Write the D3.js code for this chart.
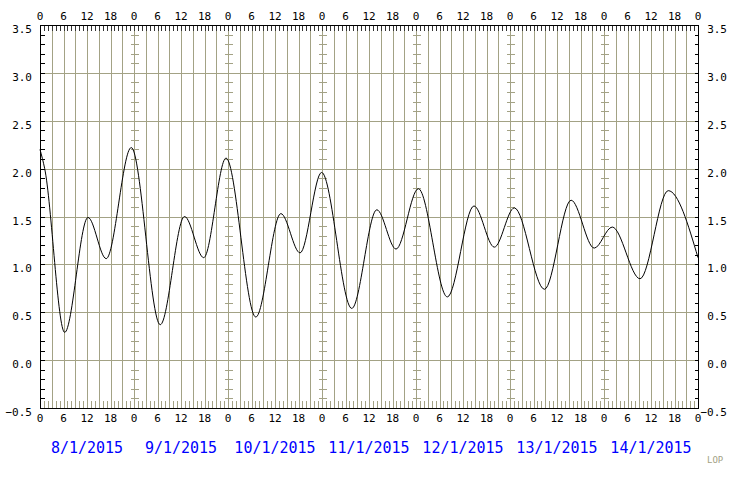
<!DOCTYPE html>
<html>
<head>
<meta charset="utf-8">
<script src="https://cdn.jsdelivr.net/npm/d3@7"></script>
<style>
  body { margin: 0; background: #fff; }
  svg { display: block; }
  text { font-family: "DejaVu Sans Mono", monospace; }
</style>
</head>
<body>
<div id="chart"></div>
<script>
// Data: hours since 8/1/2015 00:00, level in metres
var hours = [0, 1.2, 6.3, 12.25, 16.9, 23.3, 30.7, 36.9, 41.8, 47.5, 55.1, 61.5, 66.4,
  71.9, 79.6, 86, 90.9, 96.6, 104, 110.8, 116, 121.1, 128.8, 135.6, 141.5, 146.1,
  153.2, 160.4, 168];
var levels = [2.2, 2.0, 0.29, 1.49, 1.06, 2.22, 0.37, 1.5, 1.07, 2.11, 0.45, 1.53, 1.12,
  1.96, 0.54, 1.57, 1.16, 1.79, 0.66, 1.61, 1.18, 1.59, 0.74, 1.67, 1.17, 1.39,
  0.85, 1.77, 1.07];
var dayLabels = ["8/1/2015", "9/1/2015", "10/1/2015", "11/1/2015", "12/1/2015",
  "13/1/2015", "14/1/2015"];
var hourLabels = [0, 6, 12, 18];
var yLabels = [-0.5, 0, 0.5, 1, 1.5, 2, 2.5, 3, 3.5];

var width = 740;
var height = 480;
var grid = "#a3a285";

var svg = d3.select("#chart").append("svg")
  .attr("width", width)
  .attr("height", height);

var x = d3.scaleLinear().domain([0, dayLabels.length * 24]).range([40, 698]);
var y = d3.scaleLinear().domain([-0.5, 3.5]).range([408, 25]);

var px = function(v) { return Math.round(v) + 0.5; };

var g = svg.append("g").attr("shape-rendering", "crispEdges");

// hourly ticks, 3-hourly grid lines
var allHours = d3.range(0, dayLabels.length * 24 + 1);
var threeHours = allHours.filter(function(h) { return h % 3 === 0; });
var dayStarts = allHours.filter(function(h) { return h % 24 === 0; });
var tenths = d3.range(-5, 36).map(function(d) { return d / 10; });

g.selectAll(".vgrid").data(threeHours).enter().append("line")
  .attr("x1", function(d) { return px(x(d)); })
  .attr("x2", function(d) { return px(x(d)); })
  .attr("y1", y(3.5)).attr("y2", y(-0.5))
  .attr("stroke", grid);

g.selectAll(".hgrid").data(yLabels).enter().append("line")
  .attr("x1", x(0)).attr("x2", x(168))
  .attr("y1", function(d) { return px(y(d)); })
  .attr("y2", function(d) { return px(y(d)); })
  .attr("stroke", grid);

// cross ticks along the midnight lines
dayStarts.slice(1, -1).forEach(function(h) {
  g.selectAll(null).data(tenths).enter().append("line")
    .attr("x1", px(x(h)) - 4).attr("x2", px(x(h)) + 4)
    .attr("y1", function(d) { return px(y(d)); })
    .attr("y2", function(d) { return px(y(d)); })
    .attr("stroke", grid);
});

// top ticks (dark) and bottom ticks (khaki)
g.selectAll(".ttick").data(allHours).enter().append("line")
  .attr("x1", function(d) { return px(x(d)); })
  .attr("x2", function(d) { return px(x(d)); })
  .attr("y1", y(3.5)).attr("y2", y(3.5) + 6)
  .attr("stroke", "#333");

g.selectAll(".btick").data(allHours).enter().append("line")
  .attr("x1", function(d) { return px(x(d)); })
  .attr("x2", function(d) { return px(x(d)); })
  .attr("y1", y(-0.5)).attr("y2", y(-0.5) - 7)
  .attr("stroke", grid);

// left and right minor ticks
g.selectAll(".ltick").data(tenths).enter().append("line")
  .attr("x1", px(x(0))).attr("x2", px(x(0)) + 4)
  .attr("y1", function(d) { return px(y(d)); })
  .attr("y2", function(d) { return px(y(d)); })
  .attr("stroke", "#000");

g.selectAll(".rtick").data(tenths).enter().append("line")
  .attr("x1", px(x(168))).attr("x2", px(x(168)) - 4)
  .attr("y1", function(d) { return px(y(d)); })
  .attr("y2", function(d) { return px(y(d)); })
  .attr("stroke", "#000");

// frame
g.append("rect")
  .attr("x", px(x(0))).attr("y", px(y(3.5)))
  .attr("width", Math.round(x(168)) - Math.round(x(0)))
  .attr("height", Math.round(y(-0.5)) - Math.round(y(3.5)))
  .attr("fill", "none")
  .attr("stroke", "#000");

// curve
var line = d3.line()
  .x(function(d, i) { return x(hours[i]); })
  .y(function(d) { return y(d); })
  .curve(d3.curveMonotoneX);

svg.append("path")
  .attr("d", line(levels))
  .attr("fill", "none")
  .attr("stroke", "#000")
  .attr("stroke-width", 1);

// hour labels top and bottom
var hourTicks = allHours.filter(function(h) {
  return hourLabels.indexOf(h % 24) >= 0;
});

svg.selectAll(".thl").data(hourTicks).enter().append("text")
  .attr("x", function(d) { return x(d); })
  .attr("y", 20)
  .attr("text-anchor", "middle")
  .attr("font-size", 11)
  .text(function(d) { return d % 24; });

svg.selectAll(".bhl").data(hourTicks).enter().append("text")
  .attr("x", function(d) { return x(d); })
  .attr("y", 422)
  .attr("text-anchor", "middle")
  .attr("font-size", 11)
  .text(function(d) { return d % 24; });

// y labels both sides
svg.selectAll(".lyl").data(yLabels).enter().append("text")
  .attr("x", 32)
  .attr("y", function(d) { return y(d) + 8; })
  .attr("text-anchor", "end")
  .attr("font-size", 11)
  .text(function(d) { return d3.format(".1f")(d); });

svg.selectAll(".ryl").data(yLabels).enter().append("text")
  .attr("x", 727)
  .attr("y", function(d) { return y(d) + 8; })
  .attr("text-anchor", "end")
  .attr("font-size", 11)
  .text(function(d) { return d3.format(".1f")(d); });

// day labels
svg.selectAll(".day").data(dayLabels).enter().append("text")
  .attr("x", function(d, i) { return x(i * 24 + 12); })
  .attr("y", 453)
  .attr("text-anchor", "middle")
  .attr("font-size", 15)
  .attr("fill", "#0000ff")
  .text(function(d) { return d; });

svg.append("text")
  .attr("x", 707).attr("y", 463)
  .attr("font-size", 9)
  .attr("fill", grid)
  .text("LOP");
</script>
</body>
</html>
